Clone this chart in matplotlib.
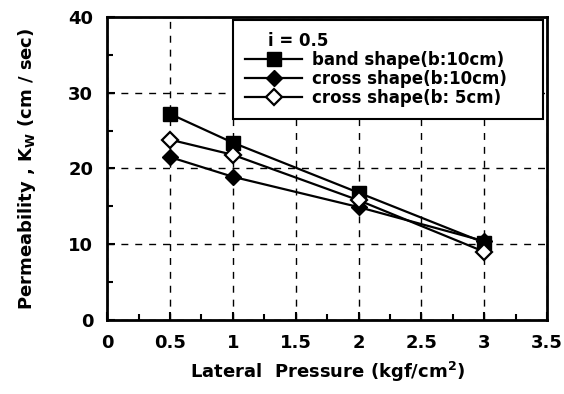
import numpy as np
import matplotlib.pyplot as plt
from matplotlib.ticker import MultipleLocator

# data
pressure = [0.5, 1, 2, 3]
band_10 = [27.2, 23.4, 16.8, 10.2]
cross_10 = [21.5, 18.9, 14.9, 10.4]
cross_5 = [23.8, 21.8, 15.8, 9.0]
labels = ["band shape(b:10cm)", "cross shape(b:10cm)", "cross shape(b: 5cm)"]

plt.rcParams['font.family'] = ['DejaVu Sans']
plt.rcParams['font.weight'] = 'bold'

fig = plt.figure(figsize=(5.64, 3.94), dpi=100)
ax = fig.add_axes([0.19, 0.188, 0.78, 0.769])

ax.plot(pressure, band_10, color="black", lw=1.6, marker="s", ms=10, mfc="black", label=labels[0])
ax.plot(pressure, cross_10, color="black", lw=1.6, marker="D", ms=8.5, mfc="black", label=labels[1])
ax.plot(pressure, cross_5, color="black", lw=1.6, marker="D", ms=8.5, mfc="white", mew=1.6, label=labels[2])

ax.set_xlim(0, 3.5)
ax.set_ylim(0, 40)
ax.xaxis.set_major_locator(MultipleLocator(0.5))
ax.xaxis.set_minor_locator(MultipleLocator(0.25))
ax.yaxis.set_major_locator(MultipleLocator(10))
ax.yaxis.set_minor_locator(MultipleLocator(5))
ax.set_xticks([0, 0.5, 1, 1.5, 2, 2.5, 3, 3.5])
ax.set_xticklabels(["0", "0.5", "1", "1.5", "2", "2.5", "3", "3.5"])
ax.tick_params(which="both", direction="in", width=1.5, labelsize=13)
ax.tick_params(which="major", length=6, pad=10)
ax.tick_params(which="minor", length=4)
for s in ax.spines.values():
    s.set_linewidth(2)

ax.grid(True, which="major", color="black", linestyle=(0, (5, 5)), linewidth=1)

ax.set_xlabel("Lateral  Pressure (kgf/cm$^\\mathbf{2}$)", fontsize=13, fontweight="bold", labelpad=6)
ax.set_ylabel("Permeability , K$_\\mathbf{W}$ (cm / sec)", fontsize=13, fontweight="bold", labelpad=22)

leg = ax.legend(title="    i = 0.5", loc="upper left", bbox_to_anchor=(0.286, 0.677, 0.705, 0.313),
                mode="expand", fontsize=12, title_fontsize=12, handlelength=3.4, fancybox=False,
                framealpha=1, edgecolor="black", borderaxespad=0, labelspacing=0.05,
                handletextpad=0.6, borderpad=0.75)
leg._legend_box.align = "left"
leg.get_frame().set_linewidth(1.5)

fig.savefig("out.png", dpi=100)
